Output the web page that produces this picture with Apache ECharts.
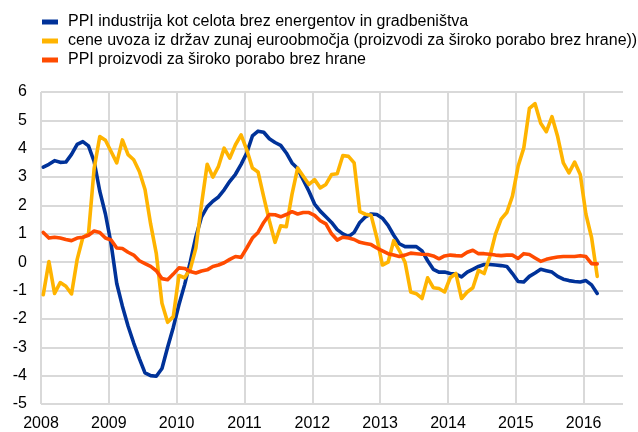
<!DOCTYPE html>
<html>
<head>
<meta charset="utf-8">
<script src="https://cdn.jsdelivr.net/npm/echarts@6/dist/echarts.min.js"></script>
<style>
html,body{margin:0;padding:0;background:#fff;}
#chart{width:638px;height:432px;}
</style>
</head>
<body>
<div id="chart"></div>
<script>
// Monthly observations, January 2008 to March 2016
var startYear = 2008;
var yearTicks = [2008, 2009, 2010, 2011, 2012, 2013, 2014, 2015, 2016];
var seriesNames = [
  'PPI industrija kot celota brez energentov in gradbeništva',
  'cene uvoza iz držav zunaj euroobmočja (proizvodi za široko porabo brez hrane))',
  'PPI proizvodi za široko porabo brez hrane'
];
var ppiIndustry = [
  3.35, 3.45, 3.58, 3.52, 3.53, 3.8, 4.15, 4.25, 4.1, 3.55, 2.5, 1.7,
  0.65, -0.75, -1.55, -2.25, -2.85, -3.4, -3.9, -4.0, -4.02, -3.75, -3.0, -2.3,
  -1.5, -0.8, 0.0, 0.9, 1.6, 1.95, 2.15, 2.3, 2.55, 2.85, 3.1, 3.45,
  3.85, 4.45, 4.62, 4.58, 4.35, 4.22, 4.12, 3.85, 3.5, 3.3, 2.9, 2.5,
  2.05, 1.8, 1.6, 1.4, 1.15, 1.0, 0.9, 1.05, 1.4, 1.6, 1.7, 1.68,
  1.55, 1.3, 0.95, 0.65, 0.55, 0.55, 0.55, 0.4, 0.05, -0.25, -0.35, -0.35,
  -0.4, -0.42, -0.52, -0.35, -0.25, -0.15, -0.08, -0.08, -0.1, -0.12, -0.15, -0.4,
  -0.68, -0.7, -0.5, -0.38, -0.25, -0.3, -0.35, -0.5, -0.6, -0.65, -0.68, -0.7,
  -0.65, -0.8, -1.1
];
var importPrices = [
  -1.15, 0.02, -1.1, -0.72, -0.85, -1.12, 0.1, 0.87, 1.0, 3.3, 4.43, 4.3,
  3.9, 3.5, 4.31, 3.79, 3.61, 3.2, 2.56, 1.34, 0.3, -1.45, -2.12, -1.92,
  -0.47, -0.55, -0.25, 0.5, 2.04, 3.45, 3.0, 3.38, 4.02, 3.67, 4.14, 4.49,
  3.96, 3.32, 3.18, 2.3, 1.46, 0.7, 1.28, 1.25, 2.39, 3.32, 3.03, 2.74,
  2.91, 2.62, 2.74, 3.09, 3.12, 3.76, 3.73, 3.5, 1.78, 1.69, 1.65, 0.87,
  -0.1, 0.0, 0.76, 0.41, 0.0, -1.05, -1.11, -1.28, -0.55, -0.9, -0.93, -1.05,
  -0.55, -0.4, -1.28, -1.05, -0.9, -0.29, -0.4, 0.2, 0.99, 1.52, 1.75, 2.33,
  3.38, 4.02, 5.42, 5.59, 4.9, 4.6, 5.13, 4.43, 3.5, 3.15, 3.53, 3.09,
  1.69, 0.87, -0.5
];
var ppiConsumer = [
  1.05, 0.85, 0.88, 0.85, 0.8, 0.76, 0.85, 0.88, 0.95, 1.1, 1.05, 0.85,
  0.78, 0.5, 0.48, 0.35, 0.25, 0.05, -0.05, -0.15, -0.3, -0.58, -0.62, -0.42,
  -0.2, -0.22, -0.33, -0.38, -0.31, -0.27, -0.15, -0.1, -0.02, 0.1, 0.2, 0.17,
  0.5, 0.85, 1.05, 1.4, 1.68, 1.67, 1.6, 1.68, 1.78, 1.7, 1.75, 1.75,
  1.65, 1.46, 1.35, 1.0, 0.78, 0.88, 0.85, 0.8, 0.7, 0.66, 0.62, 0.5,
  0.4, 0.3, 0.25, 0.2, 0.25, 0.32, 0.3, 0.28, 0.27, 0.22, 0.12, 0.22,
  0.25, 0.23, 0.22, 0.35, 0.42, 0.3, 0.3, 0.28, 0.25, 0.23, 0.25, 0.25,
  0.13, 0.3, 0.27, 0.15, 0.03, 0.1, 0.15, 0.18, 0.2, 0.2, 0.2, 0.23,
  0.2, -0.05, -0.06
];
var colors = ['#003299', '#FFB400', '#FF4B00'];

function toPairs(arr) {
  // month index -> fractional year (observation placed within its month)
  return arr.map(function (v, i) { return [startYear + (i + 0.4) / 12, v]; });
}

var chart = echarts.init(document.getElementById('chart'), null, {renderer: 'canvas'});
var font = 'Liberation Sans, Arial, sans-serif';
var gridColor = '#d9d9d9';

function lineSeries(name, arr, color) {
  return {
    name: name, type: 'line', data: toPairs(arr), showSymbol: false, symbol: 'none',
    lineStyle: {color: color, width: 3.6, cap: 'round', join: 'round'},
    itemStyle: {color: color}, z: 2, animation: false
  };
}

var option = {
  animation: false,
  backgroundColor: '#fff',
  textStyle: {fontFamily: font},
  legend: {
    orient: 'vertical', left: 37, top: 9, itemWidth: 16, itemHeight: 5, itemGap: 3,
    icon: 'rect',
    textStyle: {fontFamily: font, fontSize: 16, color: '#000', padding: [0, 0, 0, 5]},
    data: seriesNames
  },
  grid: {left: 41, right: 15, top: 92, bottom: 26, containLabel: false},
  xAxis: {
    type: 'value', min: 2008, max: 2016.58, interval: 1,
    axisLine: {show: false}, axisTick: {show: false},
    splitLine: {show: false},
    axisLabel: {
      fontFamily: font, fontSize: 16, color: '#000', margin: 12, showMaxLabel: false,
      formatter: function (v) { return Number.isInteger(v) ? String(v) : ''; }
    }
  },
  yAxis: {
    type: 'value', min: -5, max: 6, interval: 1,
    axisLine: {show: false}, axisTick: {show: false},
    splitLine: {show: true, lineStyle: {color: gridColor, width: 2}},
    axisLabel: {fontFamily: font, fontSize: 16, color: '#000', margin: 14}
  },
  series: [
    {
      name: 'grid-years', type: 'line', data: [], silent: true, z: 1,
      markLine: {
        silent: true, z: 1, symbol: ['none', 'none'], animation: false,
        label: {show: false},
        lineStyle: {color: gridColor, width: 2, type: 'solid'},
        emphasis: {disabled: true},
        data: yearTicks.map(function (y) { return {xAxis: y}; })
      }
    },
    lineSeries(seriesNames[0], ppiIndustry, colors[0]),
    lineSeries(seriesNames[1], importPrices, colors[1]),
    lineSeries(seriesNames[2], ppiConsumer, colors[2])
  ]
};
chart.setOption(option);
</script>
</body>
</html>
